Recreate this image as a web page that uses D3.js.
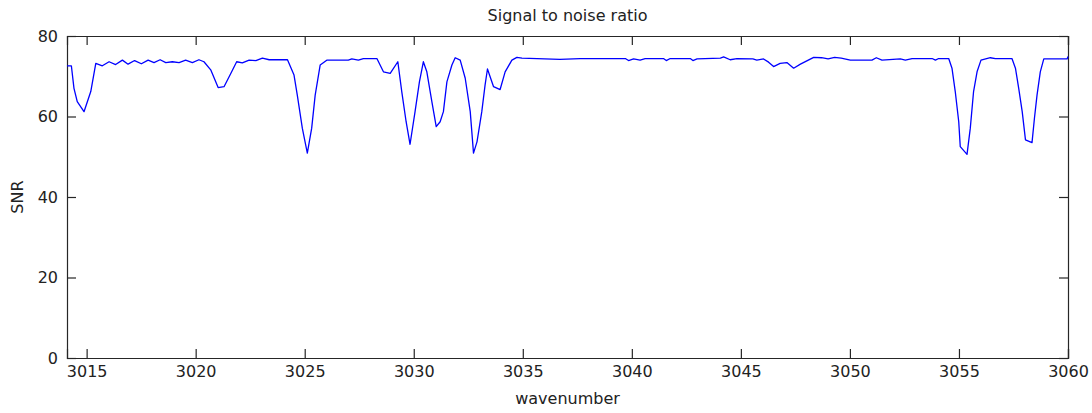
<!DOCTYPE html>
<html>
<head>
<meta charset="utf-8">
<script src="https://cdn.jsdelivr.net/npm/d3@7"></script>
<style>
  body { margin: 0; background: #fff; }
  text { font-family: "DejaVu Sans", Verdana, sans-serif; fill: #222; }
</style>
</head>
<body>
<div id="chart"></div>
<script>
// values
const wavenumber = [
  3014.10, 3014.30, 3014.42, 3014.57, 3014.88, 3015.19, 3015.42, 3015.72, 3016.03, 3016.33,
  3016.64, 3016.90, 3017.20, 3017.51, 3017.82, 3018.09, 3018.37, 3018.63, 3018.93, 3019.24,
  3019.54, 3019.85, 3020.15, 3020.38, 3020.69, 3021.03, 3021.30, 3021.61, 3021.88, 3022.14,
  3022.45, 3022.76, 3023.06, 3023.37, 3024.21, 3024.51, 3024.66, 3024.89, 3025.12, 3025.32,
  3025.48, 3025.71, 3026.01, 3027.00, 3027.16, 3027.46, 3027.69, 3028.31, 3028.61, 3028.92,
  3029.27, 3029.45, 3029.65, 3029.83, 3030.06, 3030.26, 3030.44, 3030.60, 3030.83, 3031.03,
  3031.21, 3031.36, 3031.52, 3031.75, 3031.90, 3032.13, 3032.36, 3032.59, 3032.74, 3032.90,
  3033.12, 3033.27, 3033.38, 3033.66, 3033.96, 3034.19, 3034.50, 3034.73, 3034.96, 3036.70,
  3037.63, 3039.70, 3039.85, 3040.08, 3040.38, 3040.61, 3041.45, 3041.58, 3041.76, 3042.68,
  3042.80, 3042.99, 3044.06, 3044.21, 3044.51, 3044.82, 3045.55, 3045.73, 3046.04, 3046.27,
  3046.50, 3046.80, 3047.11, 3047.42, 3047.73, 3048.34, 3048.70, 3049.00, 3049.30, 3049.60,
  3050.02, 3050.48, 3051.01, 3051.21, 3051.47, 3052.31, 3052.54, 3052.85, 3053.77, 3053.92,
  3054.07, 3054.53, 3054.68, 3054.83, 3054.99, 3055.06, 3055.37, 3055.52, 3055.67, 3055.83,
  3056.01, 3056.44, 3056.67, 3057.43, 3057.59, 3057.74, 3057.90, 3058.05, 3058.35, 3058.46,
  3058.58, 3058.73, 3058.89, 3059.96, 3060.00
];
const snr = [
  72.6, 72.6, 67.0, 63.7, 61.2, 66.2, 73.2, 72.6, 73.6, 72.9,
  74.0, 73.0, 73.9, 73.1, 74.0, 73.4, 74.1, 73.4, 73.6, 73.4,
  74.0, 73.4, 74.1, 73.6, 71.6, 67.2, 67.4, 70.7, 73.6, 73.3,
  74.0, 73.9, 74.5, 74.1, 74.1, 70.3, 65.3, 57.1, 50.9, 57.1,
  65.3, 72.8, 74.0, 74.0, 74.3, 74.0, 74.4, 74.4, 71.1, 70.7,
  73.6, 66.2, 58.7, 53.1, 61.2, 68.6, 73.6, 71.1, 63.7, 57.5,
  58.7, 61.2, 68.6, 72.8, 74.6, 74.0, 69.5, 61.2, 50.9, 53.7,
  61.2, 67.8, 71.8, 67.4, 66.7, 71.1, 74.0, 74.7, 74.5, 74.2,
  74.4, 74.4, 73.9, 74.3, 74.0, 74.4, 74.4, 73.9, 74.4, 74.4,
  73.9, 74.3, 74.5, 74.8, 74.1, 74.4, 74.3, 74.0, 74.3, 73.5,
  72.4, 73.2, 73.4, 72.0, 73.0, 74.7, 74.6, 74.3, 74.7, 74.5,
  74.0, 74.0, 74.0, 74.6, 74.0, 74.3, 74.0, 74.4, 74.4, 74.0,
  74.4, 74.4, 72.0, 66.2, 58.7, 52.5, 50.6, 57.1, 66.2, 71.1,
  74.0, 74.6, 74.4, 74.4, 72.0, 67.0, 61.2, 54.2, 53.5, 59.5,
  65.3, 71.1, 74.3, 74.3, 74.9
];
const xTicks = [3015, 3020, 3025, 3030, 3035, 3040, 3045, 3050, 3055, 3060];
const yTicks = [0, 20, 40, 60, 80];

const data = wavenumber.map((w, i) => ({ w: w, s: snr[i] }));

const totalW = 1092, totalH = 413;
const margin = {top: 36, right: 24, bottom: 55, left: 67},
      width = totalW - margin.left - margin.right,
      height = totalH - margin.top - margin.bottom;

const svg = d3.select("#chart")
  .append("svg")
    .attr("width", totalW)
    .attr("height", totalH);

const g = svg.append("g")
    .attr("transform", `translate(${margin.left},${margin.top})`);

const x = d3.scaleLinear()
  .domain([3014.1, 3060])
  .range([0, width]);

const y = d3.scaleLinear()
  .domain([0, 80])
  .range([height, 0]);

const tickLen = 9;

// bottom / top axes, ticks pointing inward
g.append("g")
  .attr("transform", `translate(0,${height})`)
  .call(d3.axisBottom(x).tickValues(xTicks).tickSize(-tickLen).tickPadding(8).tickFormat(d3.format("d")))
  .attr("font-size", "16px");

g.append("g")
  .call(d3.axisTop(x).tickValues(xTicks).tickSize(-tickLen).tickFormat(""));

// left / right axes
g.append("g")
  .call(d3.axisLeft(y).tickValues(yTicks).tickSize(-tickLen).tickPadding(9))
  .attr("font-size", "16px");

g.append("g")
  .attr("transform", `translate(${width},0)`)
  .call(d3.axisRight(y).tickValues(yTicks).tickSize(-tickLen).tickFormat(""));

g.selectAll(".domain").attr("stroke", "#262626").attr("stroke-width", 1.2);
g.selectAll(".tick line").attr("stroke", "#262626").attr("stroke-width", 1.2);
g.selectAll(".tick text").attr("fill", "#222").attr("font-family", "DejaVu Sans, sans-serif");

// the signal line
g.append("path")
  .datum(data)
  .attr("fill", "none")
  .attr("stroke", "#0000ff")
  .attr("stroke-width", 1.3)
  .attr("stroke-linejoin", "round")
  .attr("d", d3.line()
    .x(d => x(d.w))
    .y(d => y(d.s)));

// labels
svg.append("text")
  .attr("text-anchor", "middle")
  .attr("x", margin.left + width / 2)
  .attr("y", 21)
  .attr("font-size", "16px")
  .text("Signal to noise ratio");

svg.append("text")
  .attr("text-anchor", "middle")
  .attr("x", margin.left + width / 2)
  .attr("y", 404)
  .attr("font-size", "16px")
  .text("wavenumber");

svg.append("text")
  .attr("text-anchor", "middle")
  .attr("transform", `translate(23,${margin.top + height / 2}) rotate(-90)`)
  .attr("font-size", "16px")
  .text("SNR");
</script>
</body>
</html>
